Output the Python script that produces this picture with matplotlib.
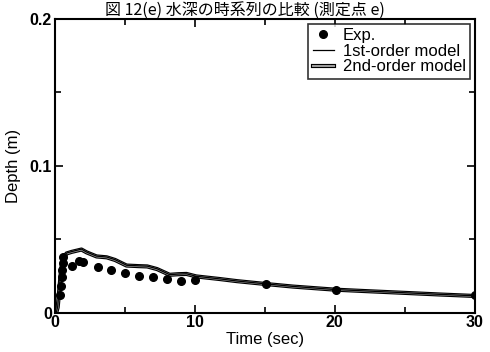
import matplotlib
matplotlib.use('Agg')
import matplotlib.pyplot as plt
import matplotlib.patheffects as pe

# Experimental points (time in sec, depth in m)
exp_t = [0.35, 0.42, 0.48, 0.53, 0.55, 0.6, 1.2, 1.75, 2.0, 3.05, 4.0, 5.04, 6.04,
         7.03, 8.03, 9.04, 10.0, 15.1, 20.1, 30.0]
exp_d = [0.012, 0.018, 0.024, 0.029, 0.034, 0.038, 0.032, 0.0349, 0.0344, 0.0308,
         0.0293, 0.027, 0.0252, 0.0245, 0.0229, 0.0218, 0.0222, 0.0195, 0.0154, 0.0122]

# 1st-order model
m1_t = [0.1, 0.2, 0.3, 0.45, 0.6, 0.83, 1.2, 1.9, 2.26, 2.98, 3.7, 4.3, 5.12, 6.0,
        6.6, 7.3, 8.2, 8.8, 9.4, 10.1, 11.8, 13.0, 15.0, 17.0, 20.0, 22.0, 25.0,
        27.5, 30.0]
m1_d = [0.0, 0.004, 0.015, 0.031, 0.037, 0.0405, 0.0415, 0.0432, 0.0412, 0.0384,
        0.0378, 0.036, 0.0322, 0.0318, 0.0316, 0.0298, 0.0258, 0.0262, 0.0264, 0.0247,
        0.0229, 0.0215, 0.0196, 0.0178, 0.0157, 0.0148, 0.0135, 0.0124, 0.0114]

# 2nd-order model
m2_t = [0.1, 0.2, 0.3, 0.45, 0.6, 0.83, 1.2, 1.9, 2.26, 2.98, 3.7, 4.3, 5.12, 6.0,
        6.6, 7.3, 8.2, 8.8, 9.4, 10.1, 11.8, 13.0, 15.0, 17.0, 20.0, 22.0, 25.0,
        27.5, 30.0]
m2_d = [0.0, 0.0035, 0.014, 0.030, 0.0365, 0.0402, 0.0413, 0.0429, 0.041, 0.0382,
        0.0376, 0.0358, 0.032, 0.0316, 0.0314, 0.0296, 0.0257, 0.0261, 0.0263, 0.0246,
        0.0228, 0.0214, 0.0195, 0.0177, 0.0156, 0.0147, 0.0134, 0.0123, 0.0113]

font = 'Liberation Sans'
fig = plt.figure(figsize=(4.9, 3.52), dpi=100)
ax = fig.add_axes([0.112, 0.112, 0.857, 0.835])

ax.plot(m2_t, m2_d, color='#a0a0a0', linewidth=1.4, label='2nd-order model',
        path_effects=[pe.Stroke(linewidth=3.0, foreground='black'), pe.Normal()])
ax.plot(m1_t, m1_d, color='black', linewidth=0.9, label='1st-order model')
ax.plot(exp_t, exp_d, 'o', color='black', markersize=5.5, label='Exp.', zorder=5)

ax.set_xlim(0, 30)
ax.set_ylim(0, 0.2)
ax.set_xticks([0, 10, 20, 30])
ax.set_xticks([5, 15, 25], minor=True)
ax.set_yticks([0, 0.1, 0.2])
ax.set_yticks([0.05, 0.15], minor=True)
ax.set_yticklabels(['0', '0.1', '0.2'])
ax.tick_params(which='both', direction='in', top=True, right=True, width=1.2)
ax.tick_params(which='major', length=6, labelsize=11.5, pad=2)
ax.tick_params(which='minor', length=4)
for tl in ax.get_xticklabels() + ax.get_yticklabels():
    tl.set_fontfamily(font)
    tl.set_fontweight('bold')
for s in ax.spines.values():
    s.set_linewidth(1.5)

ax.set_xlabel('Time (sec)', fontsize=12, family=font, labelpad=1)
ax.set_ylabel('Depth (m)', fontsize=12, family=font, labelpad=6)

h, l = ax.get_legend_handles_labels()
leg = ax.legend(h[::-1], l[::-1], loc='upper right', prop={'family': font, 'size': 12},
                frameon=True, fancybox=False, edgecolor='black', borderpad=0.25,
                labelspacing=0.05, handlelength=1.3, handletextpad=0.5,
                borderaxespad=0.3)
leg.get_frame().set_linewidth(1.2)

fig.text(0.5, 1 - 14.5 / 352, '図 12(e) 水深の時系列の比較 (測定点 e)', ha='center',
         va='baseline', fontsize=11.5, family=['Noto Sans CJK JP', 'DejaVu Sans'])

fig.savefig('out.png', dpi=100)
